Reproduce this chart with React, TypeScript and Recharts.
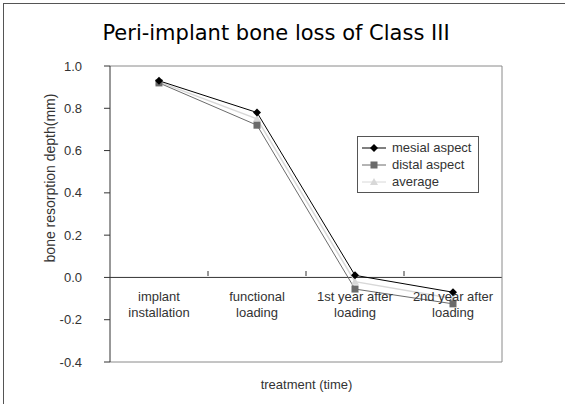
import { LineChart, Line, XAxis, YAxis, ReferenceLine } from 'recharts'

const CATEGORIES = ['implant installation', 'functional loading', '1st year after loading', '2nd year after loading']
const TICK_LINES = [
  ['implant', 'installation'],
  ['functional', 'loading'],
  ['1st year after', 'loading'],
  ['2nd year after', 'loading'],
]
const MESIAL = [0.93, 0.78, 0.01, -0.07]
const DISTAL = [0.92, 0.72, -0.055, -0.125]
const AVERAGE = [0.925, 0.75, -0.02, -0.1]
const Y_TICKS = [-0.4, -0.2, 0, 0.2, 0.4, 0.6, 0.8, 1.0]

const data = CATEGORIES.map((c, i) => ({
  name: c,
  mesial: MESIAL[i],
  distal: DISTAL[i],
  average: AVERAGE[i],
}))

const FONT = '"Liberation Sans", Arial, sans-serif'
const TEXT = '#333'

const SERIES = [
  { key: 'mesial', label: 'mesial aspect', color: '#000', marker: 'diamond' },
  { key: 'distal', label: 'distal aspect', color: '#6b6b6b', marker: 'square' },
  { key: 'average', label: 'average', color: '#d8d8d8', marker: 'triangle' },
]

function Marker({ cx, cy, kind, color }: { cx: number; cy: number; kind: string; color: string }) {
  if (cx == null || cy == null) return null
  if (kind === 'diamond')
    return <path d={`M${cx},${cy - 4}L${cx + 4},${cy}L${cx},${cy + 4}L${cx - 4},${cy}Z`} fill={color} />
  if (kind === 'square') return <rect x={cx - 3.5} y={cy - 3.5} width={7} height={7} fill={color} />
  return <path d={`M${cx},${cy - 4}L${cx + 4},${cy + 3}L${cx - 4},${cy + 3}Z`} fill={color} />
}

// x-axis labels sit under the zero line, not under the plot bottom
function CategoryTick(props: any) {
  const { x, y, index, payload } = props
  const lines = TICK_LINES[index] ?? [payload.value]
  const zeroY = y - 86
  return (
    <g>
      {index > 0 && <line x1={x - 49} x2={x - 49} y1={zeroY - 5} y2={zeroY} stroke={TEXT} />}
      {lines.map((l: string, i: number) => (
        <text key={i} x={x} y={zeroY + 25 + i * 16} textAnchor="middle" fontSize={13} fontFamily={FONT} fill={TEXT}>
          {l}
        </text>
      ))}
    </g>
  )
}

function LegendBox() {
  return (
    <div
      style={{
        position: 'absolute',
        left: 357,
        top: 136,
        border: '1px solid #555',
        width: 120,
        padding: '2px 0',
        background: '#fff',
        fontFamily: FONT,
        fontSize: 13,
        color: TEXT,
      }}
    >
      {SERIES.map((s) => (
        <div key={s.key} style={{ display: 'flex', alignItems: 'center', height: 17 }}>
          <svg width={34} height={12}>
            <line x1={4} x2={28} y1={6} y2={6} stroke={s.color} />
            <Marker cx={16} cy={6} kind={s.marker} color={s.color} />
          </svg>
          <span>{s.label}</span>
        </div>
      ))}
    </div>
  )
}

export default function App() {
  return (
    <div style={{ position: 'absolute', left: 0, top: 0, width: 565, height: 404, background: '#fff' }}>
      <div
        style={{
          position: 'absolute',
          left: 3,
          top: 3,
          width: 562,
          height: 401,
          borderLeft: '1px solid #555',
          borderTop: '1px solid #555',
        }}
      />
      <div
        style={{
          position: 'absolute',
          left: 0,
          width: 552,
          top: 22,
          textAlign: 'center',
          fontFamily: '"DejaVu Sans", Verdana, sans-serif',
          fontSize: 21,
          lineHeight: '22px',
          color: '#000',
        }}
      >
        Peri-implant bone loss of Class III
      </div>
      <div
        style={{
          position: 'absolute',
          left: 110,
          width: 393,
          top: 377,
          textAlign: 'center',
          fontFamily: FONT,
          fontSize: 13,
          color: TEXT,
        }}
      >
        treatment (time)
      </div>
      <LineChart width={565} height={404} data={data} margin={{ top: 65, right: 62, left: 40, bottom: 41 }}>
        <XAxis
          xAxisId="top"
          orientation="top"
          dataKey="name"
          scale="band"
          height={1}
          tick={false}
          tickLine={false}
          axisLine={{ stroke: '#8a8a8a' }}
        />
        <YAxis
          yAxisId="right"
          orientation="right"
          width={1}
          domain={[-0.4, 1]}
          ticks={Y_TICKS}
          tick={false}
          tickLine={false}
          axisLine={{ stroke: '#8a8a8a' }}
        />
        <XAxis
          dataKey="name"
          scale="band"
          height={1}
          tickSize={0}
          tickMargin={0}
          tickLine={false}
          axisLine={{ stroke: '#8a8a8a' }}
          tick={(p: any) => <CategoryTick {...p} />}
          interval={0}
        />
        <YAxis
          width={70}
          domain={[-0.4, 1]}
          ticks={Y_TICKS}
          tickFormatter={(v: number) => v.toFixed(1)}
          tick={{ fontSize: 13, fontFamily: FONT, fill: TEXT }}
          tickSize={6}
          tickMargin={22}
          tickLine={{ stroke: TEXT }}
          axisLine={{ stroke: TEXT }}
          label={{
            content: ({ viewBox }: any) => (
              <text
                x={viewBox.x + 10}
                y={viewBox.y + 112}
                transform={`rotate(-90 ${viewBox.x + 10} ${viewBox.y + 112})`}
                textAnchor="middle"
                dominantBaseline="central"
                fontSize={14}
                fontFamily={FONT}
                fill={TEXT}
              >
                bone resorption depth(mm)
              </text>
            ),
          }}
        />
        <ReferenceLine y={0} stroke={TEXT} />
        {SERIES.slice()
          .reverse()
          .map((s) => (
            <Line
              key={s.key}
              dataKey={s.key}
              stroke={s.color}
              strokeWidth={s.key === 'average' ? 1.5 : 1}
              isAnimationActive={false}
              dot={(p: any) => <Marker key={p.index} cx={p.cx} cy={p.cy} kind={s.marker} color={s.color} />}
              activeDot={false}
            />
          ))}
      </LineChart>
      <LegendBox />
    </div>
  )
}
